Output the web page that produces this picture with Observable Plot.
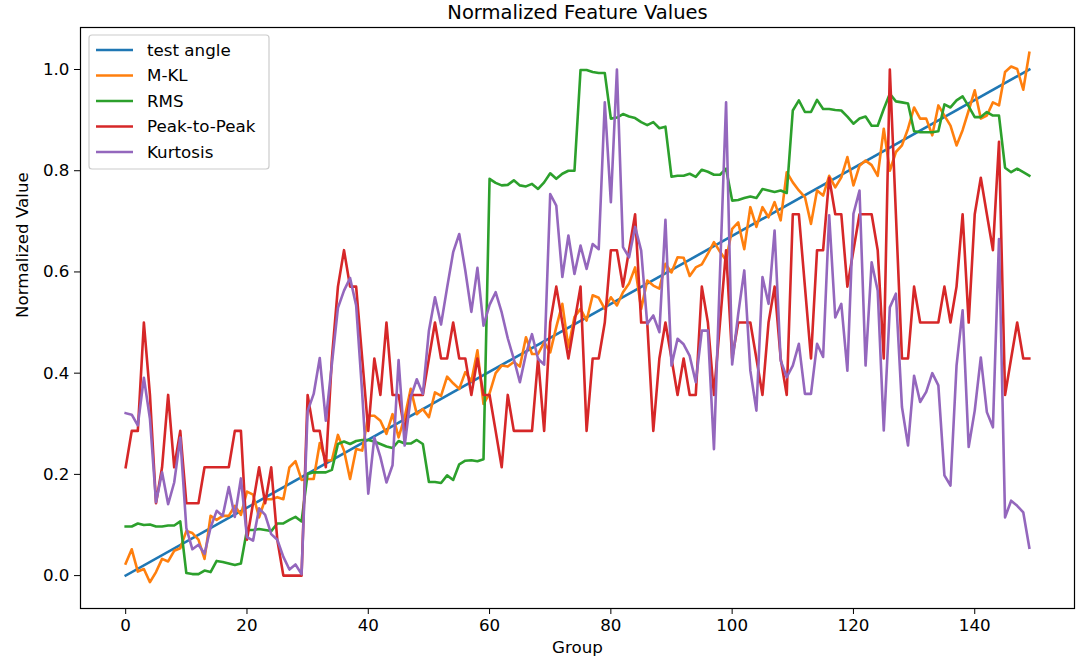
<!DOCTYPE html>
<html>
<head>
<meta charset="utf-8">
<script src="https://cdn.jsdelivr.net/npm/d3@7"></script>
<script src="https://cdn.jsdelivr.net/npm/@observablehq/plot@0.6"></script>
<style>
  html, body { margin: 0; padding: 0; background: #fff; }
  #chart { width: 1080px; height: 665px; }
  svg { display: block; }
</style>
</head>
<body>
<div id="chart"></div>
<script>
// ---------- data ----------
const seriesNames = ["test angle", "M-KL", "RMS", "Peak-to-Peak", "Kurtosis"];
const seriesColors = ["#1f77b4", "#ff7f0e", "#2ca02c", "#d62728", "#9467bd"];

const xTicks = [0, 20, 40, 60, 80, 100, 120, 140];
const yTicks = [0.0, 0.2, 0.4, 0.6, 0.8, 1.0];

// test angle: straight line from first to last group
const testAngleGroups = [0, 149];
const testAngle = [0, 1];

const mkl = [
  0.024,0.052,0.008,0.013,-0.013,0.007,0.033,0.028,0.049,0.054,
  0.088,0.084,0.071,0.033,0.118,0.110,0.118,0.118,0.138,0.120,
  0.166,0.160,0.115,0.151,0.151,0.155,0.151,0.214,0.226,0.189,
  0.191,0.191,0.262,0.227,0.228,0.278,0.247,0.191,0.250,0.247,
  0.316,0.316,0.306,0.280,0.319,0.273,0.313,0.369,0.319,0.329,
  0.313,0.362,0.355,0.393,0.380,0.369,0.402,0.384,0.445,0.339,
  0.360,0.400,0.415,0.413,0.422,0.413,0.471,0.438,0.438,0.461,
  0.441,0.491,0.537,0.451,0.511,0.527,0.504,0.554,0.549,0.527,
  0.550,0.534,0.560,0.577,0.609,0.527,0.583,0.573,0.567,0.616,
  0.599,0.629,0.628,0.592,0.609,0.615,0.636,0.659,0.640,0.623,
  0.685,0.698,0.645,0.728,0.689,0.728,0.708,0.738,0.702,0.797,
  0.777,0.761,0.748,0.695,0.761,0.751,0.790,0.767,0.787,0.827,
  0.771,0.810,0.820,0.811,0.790,0.883,0.800,0.837,0.850,0.883,
  0.925,0.903,0.903,0.870,0.929,0.909,0.889,0.850,0.880,0.919,
  0.959,0.903,0.909,0.935,0.929,0.995,1.006,1.001,0.960,1.033
];

const rms = [
  0.097,0.097,0.103,0.100,0.101,0.097,0.097,0.099,0.099,0.107,
  0.005,0.003,0.003,0.010,0.007,0.029,0.027,0.024,0.021,0.024,
  0.090,0.090,0.092,0.090,0.088,0.103,0.103,0.110,0.116,0.107,
  0.201,0.204,0.204,0.204,0.209,0.260,0.265,0.260,0.266,0.268,
  0.268,0.265,0.260,0.255,0.252,0.266,0.261,0.261,0.268,0.260,
  0.185,0.185,0.183,0.198,0.189,0.220,0.227,0.228,0.226,0.230,
  0.784,0.776,0.771,0.772,0.781,0.771,0.769,0.774,0.764,0.777,
  0.795,0.784,0.794,0.800,0.800,0.999,0.999,0.995,0.993,0.993,
  0.903,0.905,0.912,0.907,0.904,0.896,0.890,0.896,0.884,0.887,
  0.788,0.790,0.790,0.794,0.788,0.802,0.798,0.792,0.792,0.804,
  0.741,0.742,0.746,0.749,0.746,0.764,0.761,0.758,0.761,0.756,
  0.919,0.939,0.916,0.916,0.940,0.922,0.922,0.920,0.919,0.907,
  0.893,0.903,0.907,0.889,0.889,0.922,0.952,0.937,0.935,0.933,
  0.878,0.876,0.876,0.876,0.878,0.931,0.925,0.939,0.947,0.927,
  0.906,0.906,0.916,0.909,0.909,0.806,0.797,0.804,0.797,0.790
];

const peakToPeak = [
  0.214,0.286,0.286,0.500,0.357,0.143,0.214,0.357,0.214,0.286,
  0.143,0.143,0.143,0.214,0.214,0.214,0.214,0.214,0.286,0.286,
  0.071,0.143,0.214,0.143,0.214,0.071,0.000,0.000,0.000,0.000,
  0.357,0.286,0.286,0.214,0.429,0.571,0.643,0.571,0.571,0.429,
  0.286,0.429,0.357,0.500,0.357,0.357,0.286,0.357,0.357,0.357,
  0.429,0.500,0.429,0.429,0.500,0.429,0.429,0.357,0.429,0.357,
  0.357,0.286,0.214,0.357,0.286,0.286,0.286,0.286,0.429,0.286,
  0.500,0.571,0.500,0.429,0.500,0.571,0.286,0.429,0.429,0.500,
  0.643,0.643,0.571,0.643,0.714,0.500,0.500,0.286,0.429,0.500,
  0.429,0.357,0.429,0.357,0.357,0.571,0.500,0.357,0.500,0.643,
  0.429,0.500,0.500,0.500,0.429,0.357,0.500,0.571,0.429,0.357,
  0.714,0.714,0.571,0.429,0.643,0.643,0.786,0.714,0.714,0.571,
  0.643,0.714,0.714,0.714,0.643,0.429,1.000,0.714,0.429,0.429,
  0.571,0.500,0.500,0.500,0.500,0.571,0.500,0.571,0.714,0.500,
  0.714,0.786,0.714,0.643,0.857,0.357,0.429,0.500,0.429,0.429
];

const kurtosis = [
  0.321,0.318,0.297,0.391,0.310,0.145,0.204,0.141,0.184,0.273,
  0.094,0.052,0.061,0.043,0.095,0.128,0.118,0.175,0.116,0.192,
  0.076,0.069,0.133,0.120,0.082,0.071,0.037,0.012,0.022,0.003,
  0.325,0.359,0.430,0.306,0.418,0.529,0.563,0.588,0.534,0.360,
  0.162,0.273,0.234,0.184,0.218,0.426,0.257,0.352,0.388,0.359,
  0.484,0.550,0.496,0.569,0.639,0.675,0.603,0.521,0.608,0.494,
  0.535,0.560,0.520,0.469,0.428,0.382,0.438,0.477,0.428,0.417,
  0.754,0.731,0.590,0.672,0.596,0.652,0.606,0.655,0.645,0.935,
  0.738,1.000,0.649,0.629,0.689,0.642,0.497,0.514,0.481,0.703,
  0.415,0.468,0.457,0.434,0.382,0.484,0.484,0.250,0.600,0.935,
  0.417,0.517,0.603,0.405,0.326,0.590,0.537,0.682,0.425,0.392,
  0.415,0.458,0.359,0.359,0.458,0.432,0.712,0.510,0.537,0.405,
  0.715,0.761,0.415,0.619,0.563,0.287,0.530,0.557,0.333,0.257,
  0.395,0.343,0.363,0.400,0.376,0.198,0.178,0.415,0.524,0.254,
  0.326,0.431,0.323,0.293,0.665,0.115,0.148,0.138,0.125,0.055
];

// ---------- build tables ----------
const groupIndex = d3.range(mkl.length);
const tables = [
  testAngleGroups.map((g, i) => ({group: g, value: testAngle[i], series: seriesNames[0]})),
  groupIndex.map(g => ({group: g, value: mkl[g], series: seriesNames[1]})),
  groupIndex.map(g => ({group: g, value: rms[g], series: seriesNames[2]})),
  groupIndex.map(g => ({group: g, value: peakToPeak[g], series: seriesNames[3]})),
  groupIndex.map(g => ({group: g, value: kurtosis[g], series: seriesNames[4]}))
];

const xMax = 149;
const xPad = xMax * 0.05;

const font = "DejaVu Sans, Liberation Sans, sans-serif";
const lineW = 2.6;

const chart = Plot.plot({
  width: 1080,
  height: 665,
  marginLeft: 80,
  marginRight: 6,
  marginTop: 27,
  marginBottom: 57,
  style: {fontFamily: font, fontSize: "16.7px", color: "#000", background: "#fff", overflow: "visible"},
  x: {domain: [-xPad, xMax + xPad]},
  y: {domain: [-0.065, 1.083]},
  color: {domain: seriesNames, range: seriesColors},
  marks: [
    Plot.axisX({ticks: xTicks, tickSize: 6, tickPadding: 5, label: null, tickFormat: d => String(d), stroke: "#000"}),
    Plot.axisY({ticks: yTicks, tickSize: 6, tickPadding: 5, label: null, tickFormat: d3.format(".1f"), stroke: "#000"}),
    ...tables.map(t => Plot.line(t, {x: "group", y: "value", stroke: "series", strokeWidth: lineW, strokeLinejoin: "round", strokeLinecap: "square"})),
    Plot.frame({stroke: "#000", strokeWidth: 1.2}),
    Plot.text(["Normalized Feature Values"], {frameAnchor: "top", dy: -9, lineAnchor: "bottom", fontSize: 19.5, fill: "#000"}),
    Plot.text(["Group"], {frameAnchor: "bottom", dy: 44, fontSize: 16.7, fill: "#000"}),
    Plot.text(["Normalized Value"], {frameAnchor: "left", dx: -58, rotate: -90, fontSize: 16.7, fill: "#000"})
  ]
});

// ---------- legend (matplotlib-style box, upper left) ----------
const svg = d3.select(chart);
const lg = svg.append("g")
  .attr("font-family", font).attr("font-size", 16.7).attr("text-anchor", "start");
lg.append("rect")
  .attr("x", 89).attr("y", 35).attr("width", 180).attr("height", 134)
  .attr("rx", 3).attr("fill", "#fff").attr("fill-opacity", 0.8)
  .attr("stroke", "#cccccc").attr("stroke-width", 1.2);
seriesNames.forEach((name, j) => {
  const cy = 50 + j * 25.5;
  lg.append("line").attr("x1", 96).attr("x2", 133).attr("y1", cy).attr("y2", cy)
    .attr("stroke", seriesColors[j]).attr("stroke-width", lineW);
  lg.append("text").attr("x", 147).attr("y", cy).attr("dy", "0.35em")
    .attr("text-anchor", "start").attr("fill", "#000").text(name);
});

document.getElementById("chart").appendChild(chart);
</script>
</body>
</html>
